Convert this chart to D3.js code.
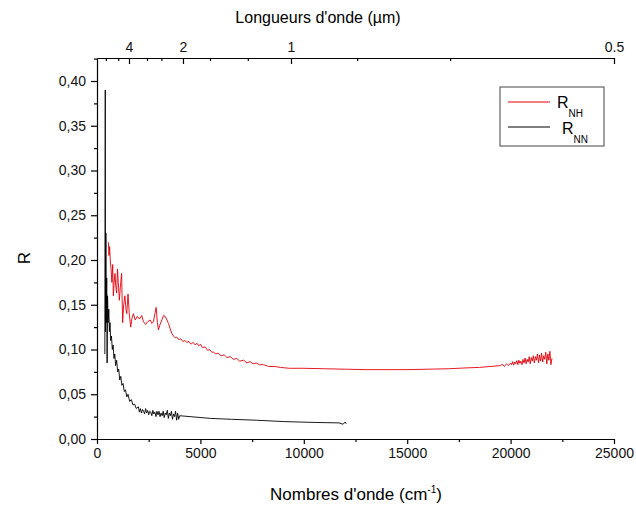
<!DOCTYPE html>
<html>
<head>
<meta charset="utf-8">
<script src="https://cdn.jsdelivr.net/npm/d3@7"></script>
<style>
  body { margin: 0; background: #fff; }
  svg { font-family: "Liberation Sans", Arial, sans-serif; }
  .axis path, .axis line { stroke: #000; stroke-width: 1.2; }
  .axis text { font-size: 14px; fill: #111; }
</style>
</head>
<body>
<svg id="vis" width="636" height="506"></svg>
<script>
// wavenumber (cm-1) and reflectance readings for R_NH (red)
const nhWavenumber = [550, 580, 610, 640, 680, 720, 760, 790, 830, 870, 910, 950, 990, 1030, 1080, 1130, 1190, 1240, 1290, 1350,
  1400, 1440, 1500, 1560, 1630, 1690, 1760, 1850, 1950, 2050, 2160, 2250, 2350, 2450, 2570, 2650, 2730, 2800, 2860, 2920,
  2970, 3050, 3135, 3220, 3295, 3380, 3456, 3540, 3617, 3700, 3780, 3850, 3950, 4050, 4150, 4250, 4345, 4450, 4550, 4650,
  4750, 4830, 4920, 5000, 5100, 5233, 5350, 5450, 5550, 5636, 5750, 5850, 6000, 6150, 6282, 6450, 6600, 6750, 6900, 7090,
  7250, 7400, 7550, 7700, 7850, 8058, 8300, 8600, 8866, 9300, 10000, 11000, 12000, 13000, 14000, 15000, 16000, 17000, 17900, 18500,
  19000, 19500, 19600, 19700, 19800, 19900, 20000, 20050, 20100, 20150, 20200, 20250, 20300, 20350, 20400, 20450, 20500, 20550, 20600, 20650,
  20700, 20750, 20800, 20850, 20900, 20950, 21000, 21050, 21100, 21150, 21200, 21250, 21300, 21350, 21400, 21450, 21500, 21550, 21600, 21650,
  21700, 21750, 21800, 21850, 21900, 21950, 22000];
const nhR = [0.220, 0.205, 0.215, 0.200, 0.190, 0.175, 0.195, 0.160, 0.175, 0.185, 0.170, 0.163, 0.190, 0.175, 0.155, 0.170, 0.185, 0.130, 0.150, 0.160,
  0.145, 0.140, 0.162, 0.140, 0.125, 0.135, 0.140, 0.133, 0.137, 0.134, 0.138, 0.131, 0.128, 0.131, 0.133, 0.129, 0.131, 0.140, 0.147, 0.130,
  0.122, 0.128, 0.133, 0.138, 0.137, 0.133, 0.129, 0.123, 0.118, 0.115, 0.113, 0.114, 0.111, 0.112, 0.109, 0.110, 0.108, 0.109, 0.106, 0.108,
  0.105, 0.107, 0.104, 0.106, 0.102, 0.103, 0.099, 0.100, 0.097, 0.097, 0.095, 0.096, 0.093, 0.094, 0.091, 0.092, 0.089, 0.090, 0.087, 0.088,
  0.085, 0.0865, 0.084, 0.085, 0.083, 0.083, 0.081, 0.081, 0.080, 0.079, 0.079, 0.0785, 0.078, 0.0775, 0.0775, 0.0775, 0.078, 0.0785, 0.0795, 0.080,
  0.081, 0.082, 0.0835, 0.081, 0.084, 0.082, 0.085, 0.083, 0.0865, 0.0825, 0.086, 0.084, 0.0875, 0.083, 0.088, 0.0845, 0.087, 0.083, 0.089, 0.085,
  0.0905, 0.084, 0.089, 0.086, 0.092, 0.084, 0.091, 0.087, 0.093, 0.085, 0.092, 0.088, 0.095, 0.085, 0.094, 0.087, 0.096, 0.086, 0.093, 0.089,
  0.097, 0.084, 0.095, 0.088, 0.098, 0.083, 0.090];

// readings for R_NN (black)
const nnWavenumber = [380, 400, 410, 430, 450, 470, 490, 510, 540, 570, 600, 630, 660, 700, 740, 780, 820, 860, 900, 950,
  1000, 1050, 1100, 1150, 1200, 1260, 1320, 1380, 1440, 1500, 1580, 1660, 1740, 1820, 1900, 2000, 2050, 2100, 2150, 2200,
  2250, 2300, 2350, 2400, 2450, 2500, 2550, 2600, 2650, 2700, 2750, 2800, 2850, 2900, 2950, 3000, 3050, 3100, 3150, 3200,
  3250, 3300, 3350, 3400, 3450, 3500, 3550, 3600, 3650, 3700, 3750, 3800, 3850, 3900, 3950, 4000, 4500, 5500, 6500, 7700,
  9000, 10500, 11700, 11900, 12000, 12050];
const nnR = [0.095, 0.390, 0.120, 0.230, 0.130, 0.180, 0.085, 0.160, 0.130, 0.145, 0.120, 0.130, 0.110, 0.115, 0.100, 0.105, 0.090, 0.095, 0.082, 0.088,
  0.075, 0.078, 0.066, 0.070, 0.060, 0.062, 0.053, 0.055, 0.047, 0.050, 0.042, 0.044, 0.038, 0.039, 0.034, 0.036, 0.030, 0.034, 0.029, 0.033,
  0.031, 0.028, 0.034, 0.029, 0.032, 0.027, 0.031, 0.030, 0.026, 0.032, 0.028, 0.030, 0.025, 0.031, 0.027, 0.031, 0.025, 0.029, 0.026, 0.031,
  0.024, 0.029, 0.027, 0.032, 0.023, 0.029, 0.026, 0.031, 0.022, 0.028, 0.025, 0.031, 0.021, 0.029, 0.022, 0.026, 0.025, 0.023, 0.022, 0.021,
  0.0195, 0.0185, 0.018, 0.0165, 0.019, 0.017];

const bottomTicks = [0, 5000, 10000, 15000, 20000, 25000];
const bottomMinor = [2500, 7500, 12500, 17500, 22500];
const leftTicks = [0, 0.05, 0.10, 0.15, 0.20, 0.25, 0.30, 0.35, 0.40];
const leftMinor = [0.025, 0.075, 0.125, 0.175, 0.225, 0.275, 0.325, 0.375, 0.425];
// top axis: wavelengths in µm
const topLabels = [4, 2, 1, 0.5];
const topMinor = [7, 5, 3, 2.5, 1.6, 1.25, 0.83, 0.67];

const vis = d3.select('#vis');
const plotLeft = 97, plotRight = 614, plotTop = 58, plotBottom = 439;

const x = d3.scaleLinear().domain([0, 25000]).range([plotLeft, plotRight]);
const y = d3.scaleLinear().domain([0, 0.4257]).range([plotBottom, plotTop]);
// the original top axis is not exactly aligned with the bottom one
const xTop = d3.scaleLinear().domain([1019, 10000, 20000]).range([plotLeft, 291, plotRight]);

const fmtY = v => d3.format('.2f')(v).replace('.', ',');

// bottom axis
vis.append('g').attr('class', 'axis')
  .attr('transform', `translate(0,${plotBottom})`)
  .call(d3.axisBottom(x).tickValues(bottomTicks).tickFormat(d3.format('d')).tickSize(5).tickSizeOuter(0).tickPadding(4));
vis.append('g').attr('class', 'axis')
  .attr('transform', `translate(0,${plotBottom})`)
  .call(d3.axisBottom(x).tickValues(bottomMinor).tickSize(3).tickFormat(''))
  .select('.domain').remove();

// left axis
vis.append('g').attr('class', 'axis')
  .attr('transform', `translate(${plotLeft},0)`)
  .call(d3.axisLeft(y).tickValues(leftTicks).tickFormat(fmtY).tickSize(6).tickSizeOuter(0).tickPadding(5));
vis.append('g').attr('class', 'axis')
  .attr('transform', `translate(${plotLeft},0)`)
  .call(d3.axisLeft(y).tickValues(leftMinor).tickSize(3).tickFormat(''))
  .select('.domain').remove();

// top axis (ticks pointing into the plot)
vis.append('g').attr('class', 'axis')
  .attr('transform', `translate(0,${plotTop})`)
  .call(d3.axisTop(xTop).tickValues(topLabels.map(l => 10000 / l)).tickFormat((d, i) => topLabels[i])
    .tickSize(-6).tickSizeOuter(0).tickPadding(6));
vis.append('g').attr('class', 'axis')
  .attr('transform', `translate(0,${plotTop})`)
  .call(d3.axisTop(xTop).tickValues(topMinor.map(l => 10000 / l)).tickSize(-3).tickFormat(''))
  .select('.domain').remove();

// curves
const line = d3.line().x(d => x(d[0])).y(d => y(d[1]));
vis.append('path')
  .datum(d3.zip(nnWavenumber, nnR))
  .attr('d', line).attr('fill', 'none').attr('stroke', '#000').attr('stroke-width', 0.9);
vis.append('path')
  .datum(d3.zip(nhWavenumber, nhR))
  .attr('d', line).attr('fill', 'none').attr('stroke', '#e3000b').attr('stroke-width', 0.9);

// titles
vis.append('text').attr('x', 318).attr('y', 23).attr('text-anchor', 'middle')
  .attr('font-size', 16).text("Longueurs d'onde (µm)");
const xt = vis.append('text').attr('x', 356).attr('y', 500).attr('text-anchor', 'middle').attr('font-size', 17);
xt.append('tspan').text("Nombres d'onde (cm");
xt.append('tspan').attr('dy', -7).attr('font-size', 10).text('-1');
xt.append('tspan').attr('dy', 7).text(')');
vis.append('text').attr('transform', 'translate(30,258) rotate(-90)').attr('text-anchor', 'middle')
  .attr('font-size', 17).text('R');

// legend
const legend = vis.append('g');
legend.append('rect').attr('x', 500).attr('y', 87).attr('width', 104).attr('height', 59)
  .attr('fill', '#fff').attr('stroke', '#444').attr('stroke-width', 1);
const legendItems = [
  { name: 'R', sub: 'NH', color: '#e3000b', ly: 102, tx: 557, ty: 108 },
  { name: 'R', sub: 'NN', color: '#000', ly: 127, tx: 562, ty: 134 }
];
legendItems.forEach(d => {
  legend.append('line').attr('x1', 508).attr('x2', 550).attr('y1', d.ly).attr('y2', d.ly)
    .attr('stroke', d.color).attr('stroke-width', 1);
  const t = legend.append('text').attr('x', d.tx).attr('y', d.ty).attr('font-size', 16);
  t.append('tspan').text(d.name);
  t.append('tspan').attr('dy', 9).attr('font-size', 10).text(d.sub);
});
</script>
</body>
</html>
